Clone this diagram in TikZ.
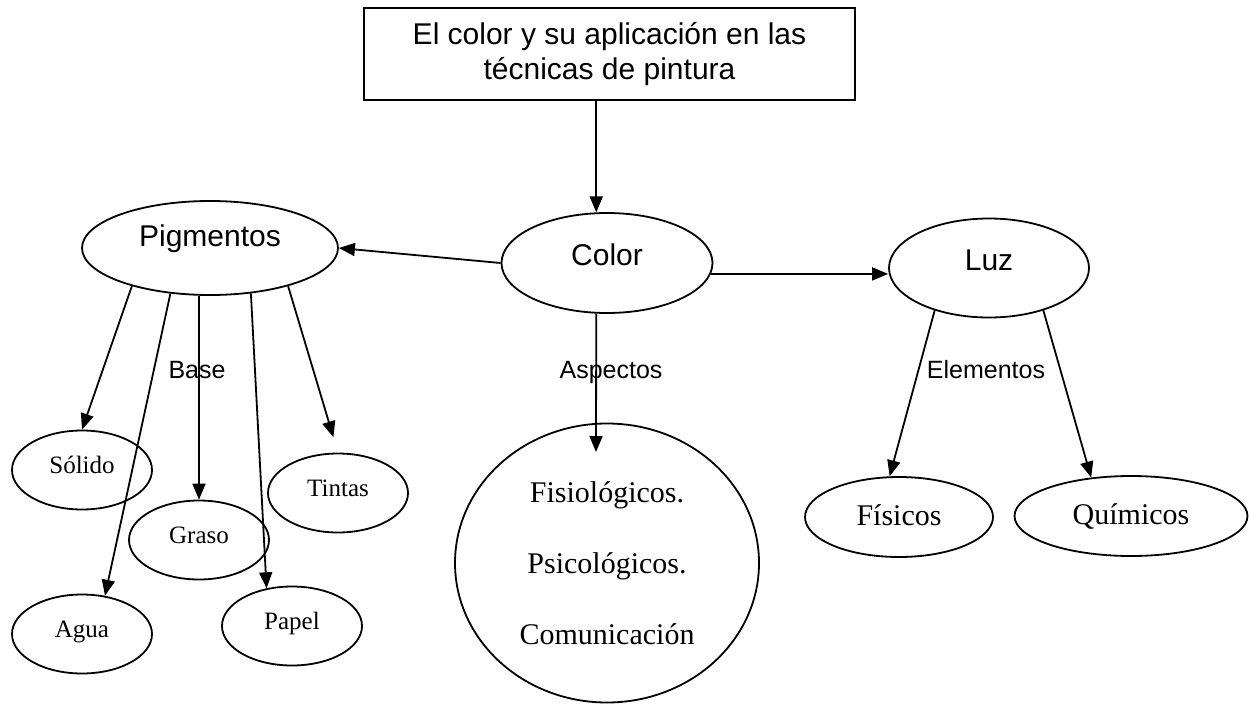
\documentclass[tikz,border=0pt]{standalone}
\usepackage{fontspec}
\setmainfont{Liberation Serif}
\newfontfamily\arialf{Liberation Sans}
\usetikzlibrary{shapes.geometric,arrows.meta}

\begin{document}
\begin{tikzpicture}[x=1pt,y=-1pt,line width=1.8pt,
        flecha/.style={-{Triangle[length=16pt,width=13pt]}},
        central/.style={draw,ellipse,inner sep=0pt,font=\arialf\fontsize{30}{35}\selectfont,text height=4pt,text depth=0pt},
        hoja/.style={draw,ellipse,inner sep=0pt,minimum width=140pt,minimum height=79pt,font=\fontsize{25}{30}\selectfont,text height=7pt,text depth=0pt},
        rama/.style={draw,ellipse,inner sep=0pt,minimum height=80pt,font=\fontsize{30}{35}\selectfont,text height=17pt,text depth=0pt},
        etiqueta/.style={anchor=base,font=\arialf\fontsize{25}{30}\selectfont}]
        %\draw[very thin,gray,step=50] (0,0) grid (1249,704) ;
        \useasboundingbox (0,0) rectangle (1249,704) ;
        \node[draw,rectangle,inner sep=0pt,minimum width=491pt,minimum height=92pt,align=center,
        font=\arialf\fontsize{30}{35}\selectfont] (titulo) at (609.5,54)
        {El color y su aplicación en las\\técnicas de pintura} ;
        \node[central,minimum width=256pt,minimum height=94pt,text height=0pt,text depth=4pt] (pigmentos) at (210,248) {Pigmentos} ;
        \node[central,minimum width=211pt,minimum height=100pt] (color) at (607,263) {Color} ;
        \node[central,minimum width=200pt,minimum height=99pt] (luz) at (989,268) {Luz} ;
        % base
        \node[hoja] (solido) at (82,470) {Sólido} ;
        \node[hoja] (graso) at (199,540) {Graso} ;
        \node[hoja] (tintas) at (338,493) {Tintas} ;
        \node[hoja] (agua) at (82,634) {Agua} ;
        \node[hoja] (papel) at (292,626) {Papel} ;
        % aspectos
        \node[draw,ellipse,inner sep=0pt,minimum width=304pt,minimum height=279pt,align=center,
        font=\fontsize{30}{71}\selectfont] (aspectos) at (607,563)
        {Fisiológicos.\\Psicológicos.\\Comunicación} ;
        % elementos
        \node[rama,minimum width=188pt] (fisicos) at (899,517) {Físicos} ;
        \node[rama,minimum width=233pt] (quimicos) at (1131,516) {Químicos} ;
        \coordinate (dentro) at (596,452) ;
        \draw[flecha] (titulo.south -| color.102) -- (color.102) ;
        \draw[flecha] (color.west) -- (pigmentos.east) ;
        \draw[flecha] (color.354) -- (color.354 -| luz.west) ;
        \draw[flecha] (color.258) -- (dentro) ;
        \draw[flecha] (pigmentos.206) -- (solido.north) ;
        \draw[flecha] (pigmentos.229) -- (agua.59) ;
        \draw[flecha] (pigmentos.south -| graso.north) -- (graso.north) ;
        \draw[flecha] (pigmentos.312) -- (papel.124) ;
        \draw[flecha,shorten >=16pt] (pigmentos.334) -- (tintas.north) ;
        \draw[flecha] (luz.218) -- (fisicos.103) ;
        \draw[flecha] (luz.322) -- (quimicos.136) ;
        \node[etiqueta] (lbase) at (197,378) {Base} ;
        \node[etiqueta] (laspectos) at (611,378) {Aspectos} ;
        \node[etiqueta] (lelementos) at (986,378) {Elementos} ;
      \end{tikzpicture}
\end{document}
